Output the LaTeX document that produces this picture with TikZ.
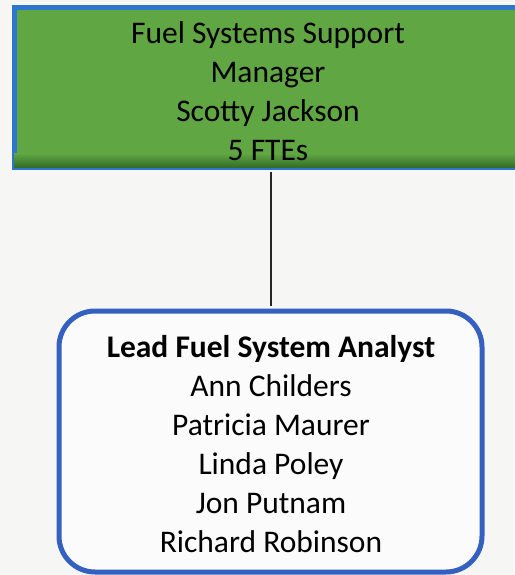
\documentclass[tikz,border=0pt]{standalone}
\usepackage{fontspec}
\setmainfont{Carlito}
\definecolor{pagebg}{RGB}{246,246,244}
\definecolor{mgrgreen}{RGB}{96,166,66}
\definecolor{mgrgreendark}{RGB}{52,110,40}
\definecolor{mgrblue}{RGB}{44,118,206}
\definecolor{teamblue}{RGB}{52,96,192}
\begin{document}
\begin{tikzpicture}[x=1pt,y=-1pt,
  boxtext/.style={font=\fontsize{31.5}{39}\selectfont, align=center, text=black},
  mgrbox/.style={draw=mgrblue, line width=5pt, fill=mgrgreen, minimum width=512pt, minimum height=159pt, inner sep=0pt},
  teambox/.style={draw=teamblue, line width=5pt, fill=white!60!pagebg, rounded corners=36pt, minimum width=423pt, minimum height=261pt, inner sep=0pt},
  link/.style={draw=black!85, line width=2pt}]
  \useasboundingbox (0,0) rectangle (514,575);
  \fill[pagebg] (0,0) rectangle (514,575);

  % manager box (runs past the right edge)
  \node[mgrbox] (mgr) at (270,87.5) {};
  \shade[top color=mgrgreen, bottom color=mgrgreendark]
    ([xshift=2.5pt,yshift=16pt]mgr.south west) rectangle ([xshift=-2.5pt,yshift=2.5pt]mgr.south east);
  \node[boxtext] (mgrtxt) at (268,91) {Fuel Systems Support\\Manager\\Scotty Jackson\\5 FTEs};

  % team box
  \node[teambox] (team) at (270.5,441.5) {};
  \node[boxtext] (teamtxt) at (271,444) {\textbf{Lead Fuel System Analyst}\\Ann Childers\\Patricia Maurer\\Linda Poley\\Jon Putnam\\Richard Robinson};

  % reporting line
  \coordinate (mgrfoot) at (mgr.south -| team.north);
  \draw[link] ([yshift=-2.5pt]mgrfoot) -- ([yshift=2.5pt]team.north);
\end{tikzpicture}
\end{document}
